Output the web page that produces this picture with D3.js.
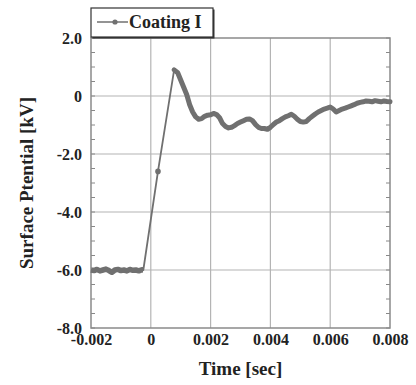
<!DOCTYPE html>
<html>
<head>
<meta charset="utf-8">
<script src="https://cdn.jsdelivr.net/npm/d3@7"></script>
<style>
  body { margin: 0; background: #fff; }
  svg { display: block; }
</style>
</head>
<body>
<svg id="chart" width="416" height="385"></svg>
<script>
// Surface potential trace, Coating I
const timeSec = [
  -0.002, -0.0019, -0.0018, -0.0017, -0.0016, -0.0015, -0.0014, -0.0013, -0.0012, -0.0011,
  -0.001, -0.0009, -0.0008, -0.0007, -0.0006, -0.0005, -0.0004, -0.0003, -0.00025,
  0.00024,
  0.00078, 0.0009, 0.001, 0.0011, 0.0012, 0.0013, 0.0014, 0.0015, 0.0016, 0.0017,
  0.0018, 0.0019, 0.002, 0.0021, 0.0022, 0.0023, 0.0024, 0.0025, 0.0026, 0.0027,
  0.0028, 0.0029, 0.003, 0.0031, 0.0032, 0.0033, 0.0034, 0.0035, 0.0036, 0.0037,
  0.0038, 0.0039, 0.004, 0.0041, 0.0042, 0.0043, 0.0044, 0.0045, 0.0046, 0.0047,
  0.0048, 0.0049, 0.005, 0.0051, 0.0052, 0.0053, 0.0054, 0.0055, 0.0056, 0.0057,
  0.0058, 0.0059, 0.006, 0.0061, 0.0062, 0.0063, 0.0064, 0.0065, 0.0066, 0.0067,
  0.0068, 0.0069, 0.007, 0.0071, 0.0072, 0.0073, 0.0074, 0.0075, 0.0076, 0.0077,
  0.0078, 0.0079, 0.008
];
const potentialKV = [
  -6.0, -6.02, -5.98, -6.03, -6.0, -5.97, -6.02, -6.08, -6.0, -5.98,
  -6.02, -6.0, -6.03, -5.98, -6.01, -6.0, -6.03, -5.99, -6.0,
  -2.6,
  0.9, 0.8, 0.55, 0.3, 0.05, -0.3, -0.55, -0.72, -0.8, -0.78,
  -0.7, -0.66, -0.65, -0.6, -0.64, -0.75, -0.95, -1.05, -1.1, -1.08,
  -1.02, -0.95, -0.9, -0.85, -0.8, -0.79, -0.85, -0.98, -1.08, -1.12,
  -1.12, -1.15, -1.08, -0.98, -0.9, -0.85, -0.78, -0.72, -0.68, -0.63,
  -0.7, -0.8, -0.88, -0.9, -0.88, -0.78, -0.7, -0.62, -0.55, -0.5,
  -0.45, -0.42, -0.38, -0.45, -0.55, -0.5, -0.45, -0.42, -0.38, -0.34,
  -0.3, -0.25, -0.22, -0.2, -0.17, -0.18, -0.2, -0.16, -0.18, -0.2,
  -0.17, -0.19, -0.2
];
const markerTime = [0.00024];
const markerKV = [-2.6];
const xTicks = [-0.002, 0, 0.002, 0.004, 0.006, 0.008];
const xTickLabels = ["-0.002", "0", "0.002", "0.004", "0.006", "0.008"];
const yTicks = [2, 0, -2, -4, -6, -8];
const yTickLabels = ["2.0", "0", "-2.0", "-4.0", "-6.0", "-8.0"];
const seriesName = "Coating I";

const data = timeSec.map((t, i) => ({ t: t, v: potentialKV[i] }));

const svg = d3.select("#chart");
const margin = { top: 38, right: 26, bottom: 57, left: 91 };
const width = 416, height = 385;
const serif = "'Liberation Serif', 'DejaVu Serif', serif";
const ink = "#222";

const x = d3.scaleLinear().domain([-0.002, 0.008]).range([margin.left, width - margin.right]);
const y = d3.scaleLinear().domain([-8, 2]).range([height - margin.bottom, margin.top]);

// grid
svg.append("g")
  .selectAll("line")
  .data(xTicks.slice(1, -1))
  .join("line")
  .attr("x1", d => x(d)).attr("x2", d => x(d))
  .attr("y1", y(2)).attr("y2", y(-8))
  .attr("stroke", "#b4b4b4").attr("stroke-width", 1.2);
svg.append("g")
  .selectAll("line")
  .data(yTicks.slice(1, -1))
  .join("line")
  .attr("x1", x(-0.002)).attr("x2", x(0.008))
  .attr("y1", d => y(d)).attr("y2", d => y(d))
  .attr("stroke", "#b4b4b4").attr("stroke-width", 1.2);

// minor ticks on left and right (every 0.5 kV)
const minor = d3.range(-8, 2.01, 0.5);
svg.append("g")
  .selectAll("line")
  .data(minor)
  .join("line")
  .attr("x1", x(-0.002)).attr("x2", x(-0.002) + 4)
  .attr("y1", d => y(d)).attr("y2", d => y(d))
  .attr("stroke", "#888");
svg.append("g")
  .selectAll("line")
  .data(minor)
  .join("line")
  .attr("x1", x(0.008)).attr("x2", x(0.008) - 4)
  .attr("y1", d => y(d)).attr("y2", d => y(d))
  .attr("stroke", "#888");

// frame
svg.append("rect")
  .attr("x", x(-0.002)).attr("y", y(2))
  .attr("width", x(0.008) - x(-0.002)).attr("height", y(-8) - y(2))
  .attr("fill", "none").attr("stroke", "#8a8a8a").attr("stroke-width", 1.5);

// axes labels
const xAxis = d3.axisBottom(x).tickValues(xTicks)
  .tickFormat((d, i) => xTickLabels[i]).tickSize(0).tickPadding(6);
const gx = svg.append("g")
  .attr("transform", `translate(0,${y(-8)})`)
  .call(xAxis);
gx.select(".domain").remove();
gx.selectAll("text")
  .attr("font-family", serif).attr("font-weight", "bold")
  .attr("font-size", 16).attr("fill", ink);

const yAxis = d3.axisLeft(y).tickValues(yTicks)
  .tickFormat((d, i) => yTickLabels[i]).tickSize(0).tickPadding(9);
const gy = svg.append("g")
  .attr("transform", `translate(${x(-0.002)},0)`)
  .call(yAxis);
gy.select(".domain").remove();
gy.selectAll("text")
  .attr("font-family", serif).attr("font-weight", "bold")
  .attr("font-size", 16).attr("fill", ink);

svg.append("text")
  .attr("x", (x(-0.002) + x(0.008)) / 2).attr("y", 375)
  .attr("text-anchor", "middle")
  .attr("font-family", serif).attr("font-weight", "bold")
  .attr("font-size", 19).attr("fill", ink)
  .text("Time [sec]");

svg.append("text")
  .attr("transform", `translate(33,${(y(2) + y(-8)) / 2}) rotate(-90)`)
  .attr("text-anchor", "middle")
  .attr("font-family", serif).attr("font-weight", "bold")
  .attr("font-size", 19).attr("fill", ink)
  .text("Surface Ptential [kV]");

// trace
const line = d3.line().x(d => x(d.t)).y(d => y(d.v));
const traceColor = "#707070";
svg.append("path")
  .datum(data)
  .attr("d", line)
  .attr("fill", "none").attr("stroke", traceColor)
  .attr("stroke-width", 1.8).attr("stroke-linejoin", "round");
// noisy parts look like a thick band
svg.append("path")
  .datum(data.filter(d => d.t <= -0.00025))
  .attr("d", line)
  .attr("fill", "none").attr("stroke", traceColor)
  .attr("stroke-width", 5.5).attr("stroke-linejoin", "round");
svg.append("path")
  .datum(data.filter(d => d.t >= 0.00078))
  .attr("d", line)
  .attr("fill", "none").attr("stroke", traceColor)
  .attr("stroke-width", 5).attr("stroke-linejoin", "round").attr("stroke-linecap", "round");

svg.append("g")
  .selectAll("circle")
  .data(markerTime)
  .join("circle")
  .attr("cx", d => x(d)).attr("cy", (d, i) => y(markerKV[i]))
  .attr("r", 2.8).attr("fill", traceColor);

// legend
const lg = svg.append("g").attr("transform", "translate(91,8)");
lg.append("rect").attr("x", 1.5).attr("y", 1.5).attr("width", 122).attr("height", 29).attr("fill", "#333");
lg.append("rect").attr("x", 0).attr("y", 0).attr("width", 122).attr("height", 29)
  .attr("fill", "#fff").attr("stroke", "#333").attr("stroke-width", 1.2);
lg.append("line").attr("x1", 6).attr("x2", 37).attr("y1", 14).attr("y2", 14)
  .attr("stroke", traceColor).attr("stroke-width", 1.5);
lg.append("circle").attr("cx", 24).attr("cy", 14).attr("r", 2.6).attr("fill", traceColor);
lg.append("text").attr("x", 38).attr("y", 20)
  .attr("font-family", serif).attr("font-weight", "bold")
  .attr("font-size", 18).attr("fill", ink)
  .text(seriesName);
</script>
</body>
</html>
